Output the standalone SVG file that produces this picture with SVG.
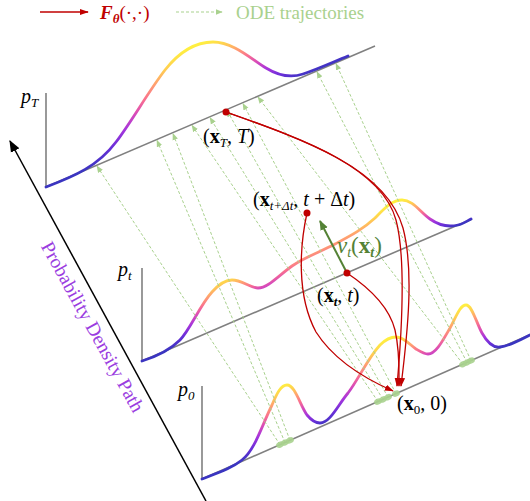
<svg xmlns="http://www.w3.org/2000/svg" xmlns:xlink="http://www.w3.org/1999/xlink" width="530" height="501" viewBox="0 0 530 501">
<style>
.axis{stroke:#808080;stroke-width:1.6;fill:none}
.curve{fill:none;stroke-width:2.8;stroke-linecap:round}
.traj{stroke:#a9d18e;stroke-width:1;stroke-dasharray:3 2;fill:none;marker-end:url(#mGreen)}
.red{stroke:#c00000;stroke-width:1.3;fill:none;marker-end:url(#mRed)}
.lbl{font-family:"Liberation Serif","Times New Roman",serif;font-size:20px;fill:#000}
.it{font-style:italic}
.bf{font-weight:bold}
.sub{font-size:13px}
.dot{fill:#c00000}
.gdot{fill:#a9d18e;opacity:0.9}
</style>
<defs>
<linearGradient id="cm">
<stop offset="0" stop-color="#3a35c0"/>
<stop offset="0.15" stop-color="#6a2fd8"/>
<stop offset="0.3" stop-color="#a535dc"/>
<stop offset="0.45" stop-color="#d94bb8"/>
<stop offset="0.58" stop-color="#f9708f"/>
<stop offset="0.72" stop-color="#ffa070"/>
<stop offset="0.86" stop-color="#ffd050"/>
<stop offset="1" stop-color="#fff040"/>
</linearGradient>
<linearGradient id="gT" xlink:href="#cm" gradientUnits="userSpaceOnUse" x1="46" y1="187" x2="17.8" y2="121.1"/>
<linearGradient id="gt" xlink:href="#cm" gradientUnits="userSpaceOnUse" x1="142" y1="361" x2="123.9" y2="318.7"/>
<linearGradient id="g0" xlink:href="#cm" gradientUnits="userSpaceOnUse" x1="202" y1="479" x2="180.3" y2="429.6"/>
<marker id="mRed" viewBox="0 0 10 10" refX="9" refY="5" markerWidth="9" markerHeight="9" markerUnits="userSpaceOnUse" orient="auto"><path d="M0,1.5 L10,5 L0,8.5 z" fill="#c00000"/></marker>
<marker id="mGreen" viewBox="0 0 10 10" refX="9" refY="5" markerWidth="7" markerHeight="7" markerUnits="userSpaceOnUse" orient="auto"><path d="M0,1 L10,5 L0,9 z" fill="#a9d18e"/></marker>
<marker id="mDark" viewBox="0 0 10 10" refX="9" refY="5" markerWidth="10" markerHeight="10" markerUnits="userSpaceOnUse" orient="auto"><path d="M0,1 L10,5 L0,9 z" fill="#548235"/></marker>
<marker id="mBlack" viewBox="0 0 10 10" refX="9" refY="5" markerWidth="12" markerHeight="12" markerUnits="userSpaceOnUse" orient="auto"><path d="M0,1 L10,5 L0,9 z" fill="#000"/></marker>
</defs>
<rect width="530" height="501" fill="#fff"/>

<g id="legend">
<line x1="40" y1="12" x2="88" y2="12" stroke="#c00000" stroke-width="1.3" marker-end="url(#mRed)"/>
<text x="100" y="19" font-family="Liberation Serif, serif" font-size="19" fill="#c00000"><tspan font-weight="bold" font-style="italic">F</tspan><tspan font-weight="bold" font-style="italic" font-size="13" dy="4">θ</tspan><tspan dy="-4">(·,·)</tspan></text>
<line x1="176" y1="12" x2="222" y2="12" class="traj"/>
<text x="236" y="19" font-family="Liberation Serif, serif" font-size="19" fill="#a9d18e">ODE trajectories</text>
</g>

<g id="plane-T">
<line class="axis" x1="46" y1="93" x2="46" y2="187.5"/>
<line class="axis" x1="46" y1="187" x2="375" y2="46"/>
<path class="curve" stroke="url(#gT)" d="M46,187 C75,176 98,166 116,142 C132,121 148,92 165,70 C180,51 196,42 213,42 C233,42 250,58 266,68 C279,76 291,78 303,74 C318,69 333,62 348,56"/>
<text class="lbl it" x="21" y="103">p<tspan class="sub" dy="4">T</tspan></text>
</g>

<g id="plane-t">
<line class="axis" x1="142" y1="268" x2="142" y2="361.5"/>
<line class="axis" x1="142" y1="361" x2="472" y2="219"/>
<path class="curve" stroke="url(#gt)" d="M142,361 C158,356 170,350 180,340 C190,330 200,305 212,292 C220,283 226,280 232,280 C242,280 250,288 258,288 C268,288 278,276 292,266 C305,257 320,252 335,244 C350,236 362,230 375,218 C385,208 392,200 402,200 C413,200 420,212 430,219 C440,226 450,227 458,225 C463,224 467,221 471,219"/>
<text class="lbl it" x="118" y="276">p<tspan class="sub" dy="4">t</tspan></text>
</g>

<g id="plane-0">
<line class="axis" x1="202" y1="386" x2="202" y2="479.5"/>
<line class="axis" x1="202" y1="479" x2="531" y2="334.2"/>
<path class="curve" stroke="url(#g0)" d="M202,479 C220,472 232,468 242,460 C255,450 262,425 272,405 C277,393 281,385 287,385 C295,385 300,405 307,415 C312,421 316,423 320,423 C330,423 338,405 348,393 C358,380 368,358 380,345 C386,339 390,337 396,337 C404,337 410,345 416,349 C421,352 424,354 428,354 C436,354 443,340 450,328 C456,317 460,305 466,305 C472,305 476,322 482,333 C487,342 493,348 500,347 C510,346 520,340 530,335"/>
<text class="lbl it" x="178" y="396">p<tspan class="sub" dy="4">0</tspan></text>
</g>

<g id="connectors">
<g id="ode-trajectories">
<line class="traj" x1="280" y1="444.7" x2="97" y2="166.1"/>
<line class="traj" x1="285" y1="442.5" x2="157" y2="140.4"/>
<line class="traj" x1="290" y1="440.3" x2="173" y2="133.6"/>
<line class="traj" x1="378" y1="401.6" x2="192" y2="125.4"/>
<line class="traj" x1="383" y1="399.4" x2="210" y2="117.7"/>
<line class="traj" x1="388" y1="397.2" x2="227" y2="110.4"/>
<line class="traj" x1="396" y1="393.6" x2="243" y2="103.6"/>
<line class="traj" x1="463" y1="364.2" x2="258" y2="97.1"/>
<line class="traj" x1="467" y1="362.4" x2="317" y2="71.9"/>
<line class="traj" x1="471" y1="360.6" x2="336" y2="63.7"/>
</g>
<g id="green-dots">
<ellipse class="gdot" cx="280" cy="444.7" rx="4" ry="3" transform="rotate(-24 280 444.7)"/>
<ellipse class="gdot" cx="285" cy="442.5" rx="4" ry="3" transform="rotate(-24 285 442.5)"/>
<ellipse class="gdot" cx="290" cy="440.3" rx="4" ry="3" transform="rotate(-24 290 440.3)"/>
<ellipse class="gdot" cx="378" cy="401.6" rx="4" ry="3" transform="rotate(-24 378 401.6)"/>
<ellipse class="gdot" cx="383" cy="399.4" rx="4" ry="3" transform="rotate(-24 383 399.4)"/>
<ellipse class="gdot" cx="388" cy="397.2" rx="4" ry="3" transform="rotate(-24 388 397.2)"/>
<ellipse class="gdot" cx="396" cy="393.6" rx="4" ry="3" transform="rotate(-24 396 393.6)"/>
<ellipse class="gdot" cx="463" cy="364.2" rx="4" ry="3" transform="rotate(-24 463 364.2)"/>
<ellipse class="gdot" cx="467" cy="362.4" rx="4" ry="3" transform="rotate(-24 467 362.4)"/>
<ellipse class="gdot" cx="471" cy="360.6" rx="4" ry="3" transform="rotate(-24 471 360.6)"/>
</g>
<g id="red-maps">
<path class="red" d="M226,112 C305,140 386,168 403,228 C414,270 408,330 401,386"/>
<path class="red" d="M226,112 C305,140 382,168 396,220 C406,258 402,330 397,386"/>
<path class="red" d="M347,273 C362,283 388,302 395,330 C400,352 399,372 399,386"/>
<path class="red" d="M307,213 C300,245 296,295 316,332 C335,362 368,380 393,391"/>
</g>
<line id="velocity" x1="347" y1="273" x2="320" y2="221" stroke="#548235" stroke-width="2" marker-end="url(#mDark)"/>
<line id="path-arrow" x1="206" y1="501" x2="10" y2="141" stroke="#000" stroke-width="1.5" marker-end="url(#mBlack)"/>
</g>

<g id="point-xT"><circle class="dot" cx="226" cy="112" r="3.5"/>
<text class="lbl" x="203" y="143">(<tspan class="bf">x</tspan><tspan class="sub it" dy="4">T</tspan><tspan dy="-4">, </tspan><tspan class="it">T</tspan>)</text></g>
<g id="point-xtdt"><circle class="dot" cx="307" cy="213" r="3.5"/>
<text class="lbl" x="253" y="206">(<tspan class="bf">x</tspan><tspan class="sub it" dy="4">t+Δt</tspan><tspan dy="-4">, </tspan><tspan class="it">t</tspan> + Δ<tspan class="it">t</tspan>)</text></g>
<g id="point-xt"><circle class="dot" cx="347" cy="273" r="3.5"/>
<text class="lbl" x="317" y="302">(<tspan class="bf">x</tspan><tspan class="sub it bf" dy="4">t</tspan><tspan dy="-4">, </tspan><tspan class="it">t</tspan>)</text></g>
<g id="point-x0">
<text class="lbl" x="397" y="410">(<tspan class="bf">x</tspan><tspan class="sub" dy="4">0</tspan><tspan dy="-4">, 0)</tspan></text></g>
<g id="velocity-label">
<text class="lbl" x="337" y="253" style="font-size:23px;fill:#548235"><tspan class="it">v</tspan><tspan class="sub it" dy="4" style="font-size:14px">t</tspan><tspan dy="-4">(</tspan><tspan class="bf">x</tspan><tspan class="sub it bf" dy="4" style="font-size:14px">t</tspan><tspan dy="-4">)</tspan></text></g>
<g id="path-label">
<text transform="translate(87,330) rotate(61)" text-anchor="middle" font-family="Liberation Serif, serif" font-size="19.5" fill="#9a3de0">Probability Density Path</text></g>
</svg>
